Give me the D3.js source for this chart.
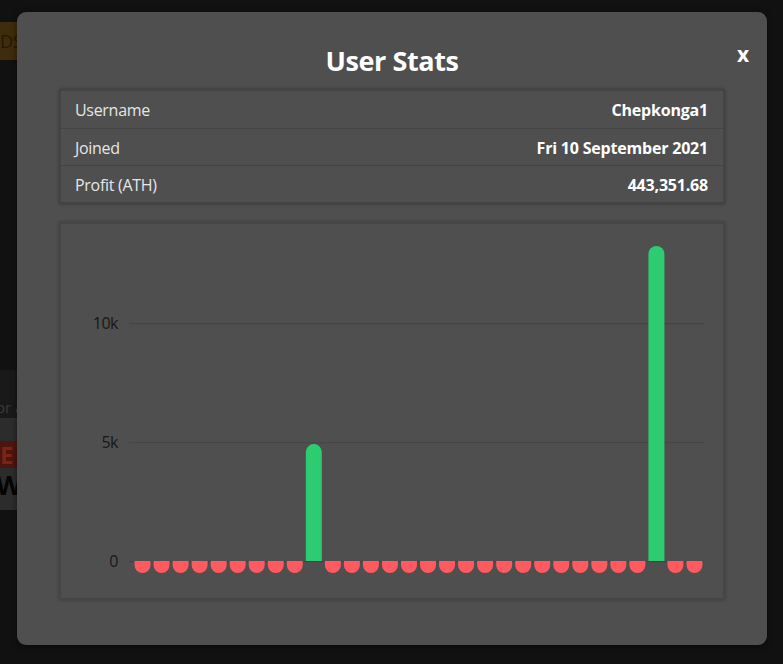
<!DOCTYPE html>
<html>
<head>
<meta charset="utf-8">
<script src="https://cdn.jsdelivr.net/npm/d3@7"></script>
<style>
  html, body { margin: 0; padding: 0; }
  body { width: 783px; height: 664px; background: #111111; position: relative; overflow: hidden;
         font-family: "Open Sans", "Noto Sans", sans-serif; }
  .bg { position: absolute; overflow: hidden; white-space: nowrap; }
  .modal { position: absolute; left: 17px; top: 12px; width: 750px; height: 633px;
           background: #4f4f4f; border-radius: 9px; box-shadow: 0 2px 6px rgba(0,0,0,0.5); }
  .title { position: absolute; left: 0; width: 750px; top: 30px; text-align: center;
           color: #fff; font-size: 27px; font-weight: 700; letter-spacing: -0.4px; }
  .close { position: absolute; left: 720px; top: 28px; color: #fff; font-size: 21px; font-weight: 700; }
  .table { position: absolute; left: 42px; top: 77px; width: 662px; height: 111px;
           border: 2px solid #444; box-shadow: 0 0 3px rgba(0,0,0,0.35); }
  .row { position: absolute; left: 0; width: 662px; height: 37px; }
  .row + .row { border-top: 1px solid #444; }
  .label { position: absolute; left: 14px; top: 8px; color: #e6e6e6; font-size: 16px; letter-spacing: -0.3px; }
  .value { position: absolute; right: 15px; top: 8px; color: #fff; font-size: 16px; font-weight: 700; letter-spacing: -0.2px; }
  .chartbox { position: absolute; left: 42px; top: 210px; width: 662px; height: 374px;
              border: 2px solid #464646; box-shadow: 0 0 3px rgba(0,0,0,0.3); }
  svg { position: absolute; left: 0; top: 0; }
</style>
</head>
<body>
<!-- page behind the dimmed overlay -->
<div class="bg" style="left:0;top:22px;width:17px;height:38px;background:#3e2c0c;color:#251905;font-size:18px;line-height:38px;">DS</div>
<div class="bg" style="left:0;top:370px;width:17px;height:48px;background:#191919;"></div>
<div class="bg" style="left:0;top:418px;width:17px;height:92px;background:#2c2c2c;"></div>
<div class="bg" style="left:0;top:396px;width:17px;height:22px;color:#3a3a3a;font-size:15px;line-height:22px;text-indent:-4px;">or a</div>
<div class="bg" style="left:0;top:441px;width:17px;height:27px;background:#4e140e;color:#7a2418;font-weight:700;font-size:24px;line-height:27px;">E</div>
<div class="bg" style="left:0;top:470px;width:17px;height:30px;color:#050505;font-weight:700;font-size:27px;line-height:30px;text-indent:-4px;">W</div>

<div class="modal">
  <div class="title">User Stats</div>
  <div class="close">x</div>
  <div class="table" id="table"></div>
  <div class="chartbox"></div>
</div>

<script>
// user info rows
const infoLabels = ["Username", "Joined", "Profit (ATH)"];
const infoValues = ["Chepkonga1", "Fri 10 September 2021", "443,351.68"];

// daily profit bars
const days = d3.range(1, 31);
const profits = [
  -500, -500, -500, -500, -500, -500, -500, -500, -500, 4920,
  -500, -500, -500, -500, -500, -500, -500, -500, -500, -500,
  -500, -500, -500, -500, -500, -500, -500, 13250, -500, -500
];
const yTicks = [0, 5000, 10000];

d3.select("#table").selectAll("div.row")
  .data(infoLabels)
  .join("div")
  .attr("class", "row")
  .style("top", (d, i) => (i * 37) + "px")
  .each(function(d, i) {
    const r = d3.select(this);
    r.append("span").attr("class", "label").text(d);
    r.append("span").attr("class", "value").text(infoValues[i]);
  });

const svg = d3.select("body").append("svg")
  .attr("width", 783)
  .attr("height", 664);

const x = d3.scaleBand()
  .domain(days)
  .range([133, 704])
  .paddingInner(0.16)
  .paddingOuter(0.08);

const y = d3.scaleLinear()
  .domain([d3.min(profits), d3.max(profits)])
  .range([573, 246]);

// grid + tick labels
svg.append("g")
  .attr("transform", "translate(129,0)")
  .call(d3.axisLeft(y).tickValues(yTicks).tickFormat(d => d === 0 ? "0" : d / 1000 + "k").tickSize(-575).tickPadding(11))
  .call(g => g.select(".domain").remove())
  .call(g => g.selectAll(".tick line").attr("stroke", "#444").attr("stroke-width", 1))
  .call(g => g.selectAll(".tick text").attr("fill", "#181818").attr("font-size", 16)
    .attr("font-family", "'Open Sans', sans-serif").attr("letter-spacing", -0.5));

// bars rounded on the end away from zero
function barPath(d, i) {
  const w = x.bandwidth();
  const x0 = x(days[i]);
  const y0 = y(0);
  const y1 = y(d);
  const h = Math.abs(y1 - y0);
  const r = Math.min(w / 2, h);
  if (d >= 0) {
    return `M${x0},${y0}V${y1 + r}A${r},${r} 0 0 1 ${x0 + r},${y1}H${x0 + w - r}A${r},${r} 0 0 1 ${x0 + w},${y1 + r}V${y0}Z`;
  }
  return `M${x0},${y0}V${y1 - r}A${r},${r} 0 0 0 ${x0 + r},${y1}H${x0 + w - r}A${r},${r} 0 0 0 ${x0 + w},${y1 - r}V${y0}Z`;
}

svg.append("g")
  .selectAll("path")
  .data(profits)
  .join("path")
  .attr("d", barPath)
  .attr("fill", d => d >= 0 ? "#2ecc71" : "#ff5a5f");
</script>
</body>
</html>
